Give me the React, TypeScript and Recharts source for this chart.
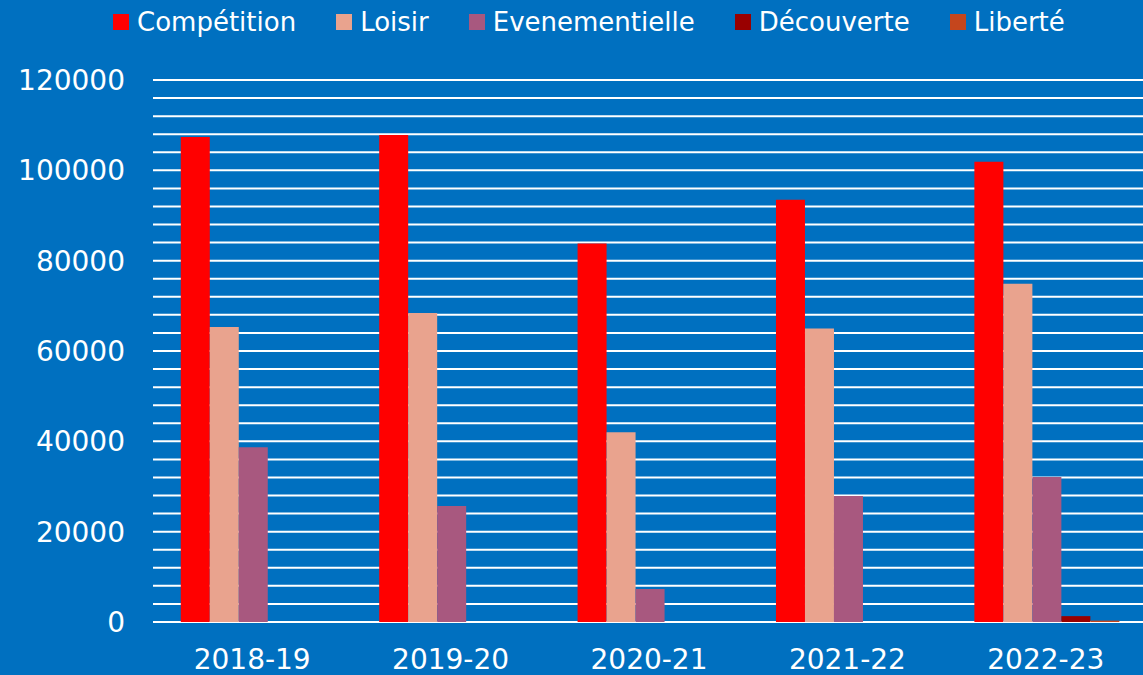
import React from "react";
import { BarChart, Bar, XAxis, YAxis, CartesianGrid } from "recharts";

const seasons = ["2018-19", "2019-20", "2020-21", "2021-22", "2022-23"];

const competition = [107400, 107800, 83800, 93500, 101900];
const loisir = [65300, 68400, 42000, 65000, 74900];
const evenementielle = [38700, 25700, 7300, 27900, 32100];
const decouverte = [0, 0, 0, 0, 1300];
const liberte = [0, 0, 0, 0, 300];

// y ticks every 4000 so the grid gets its minor lines; labels only every 20000
const yTicks = [
  0, 4000, 8000, 12000, 16000, 20000, 24000, 28000, 32000, 36000, 40000,
  44000, 48000, 52000, 56000, 60000, 64000, 68000, 72000, 76000, 80000,
  84000, 88000, 92000, 96000, 100000, 104000, 108000, 112000, 116000, 120000,
];

const series = [
  { key: "competition", name: "Compétition", color: "#FF0000" },
  { key: "loisir", name: "Loisir", color: "#E9A38E" },
  { key: "evenementielle", name: "Evenementielle", color: "#A8587F" },
  { key: "decouverte", name: "Découverte", color: "#990000" },
  { key: "liberte", name: "Liberté", color: "#C5461D" },
];

const data = seasons.map((s, i) => ({
  season: s,
  competition: competition[i],
  loisir: loisir[i],
  evenementielle: evenementielle[i],
  decouverte: decouverte[i],
  liberte: liberte[i],
}));

const FONT = "'DejaVu Sans', sans-serif";
const BG = "#0070C0";

function TopLegend() {
  return (
    <div
      style={{
        position: "absolute",
        left: 113,
        top: 0,
        height: 43,
        display: "flex",
        alignItems: "center",
        gap: 40,
        fontFamily: FONT,
        fontSize: 26,
        color: "#ffffff",
        whiteSpace: "nowrap",
      }}
    >
      {series.map((s) => (
        <div key={s.key} style={{ display: "flex", alignItems: "center" }}>
          <span
            style={{
              display: "inline-block",
              width: 16,
              height: 16,
              marginRight: 8,
              backgroundColor: s.color,
            }}
          />
          <span>{s.name}</span>
        </div>
      ))}
    </div>
  );
}

export default function App() {
  return (
    <div
      style={{
        position: "absolute",
        left: 0,
        top: 0,
        width: 1143,
        height: 675,
        overflow: "hidden",
        backgroundColor: BG,
      }}
    >
      <BarChart
        width={1145}
        height={675}
        data={data}
        margin={{ top: 80, right: 0, left: 0, bottom: 0 }}
        barGap={0}
        barCategoryGap="14%"
      >
        <CartesianGrid vertical={false} stroke="#ffffff" strokeWidth={2} />
        <XAxis
          dataKey="season"
          height={53}
          axisLine={false}
          tickLine={false}
          tickSize={0}
          tickMargin={27}
          tick={{ fill: "#ffffff", fontSize: 28, fontFamily: FONT }}
        />
        <YAxis
          width={153}
          domain={[0, 120000]}
          ticks={yTicks}
          interval={0}
          axisLine={false}
          tickLine={false}
          tickSize={0}
          tickMargin={28}
          tickFormatter={(v: number) => (v % 20000 === 0 ? String(v) : "")}
          tick={{ fill: "#ffffff", fontSize: 28, fontFamily: FONT }}
        />
        {series.map((s) => (
          <Bar
            key={s.key}
            dataKey={s.key}
            name={s.name}
            fill={s.color}
            isAnimationActive={false}
          />
        ))}
      </BarChart>
      <TopLegend />
    </div>
  );
}
